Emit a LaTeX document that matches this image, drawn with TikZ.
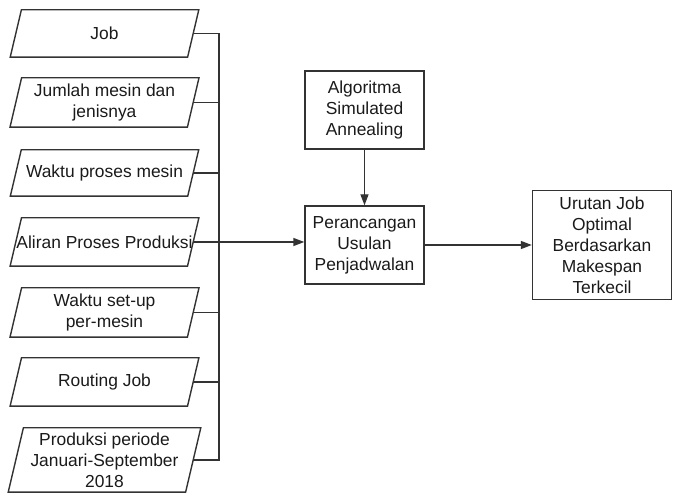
\documentclass[tikz,border=0pt]{standalone}
\usepackage{fontspec}
\setmainfont{Liberation Sans}
\usetikzlibrary{arrows.meta,calc}
\definecolor{ln}{HTML}{333333}
\definecolor{tx}{HTML}{1A1A1A}
\tikzset{
  base/.style={rectangle, inner sep=0pt, align=center, text=tx,
    font=\fontsize{17.4}{21}\selectfont},
  para/.style={base, minimum width=177pt},
  boxnode/.style={base, draw=ln, line width=1.4pt},
  wire/.style={draw=ln, line width=1.4pt},
  arr/.style={wire, -{Triangle[length=11pt,width=8pt]}}
}
\newcommand{\drawpara}[2]{%
  \draw[wire] ([xshift=#2pt]#1.north west) -- ([xshift=#2pt]#1.north east)
    -- ([xshift=-#2pt]#1.south east) -- ([xshift=-#2pt]#1.south west) -- cycle;}
\begin{document}
\begin{tikzpicture}[x=1pt,y=-1pt]
\useasboundingbox (0,0) rectangle (673,494);
% input parallelograms
\node[para, minimum height=47pt] (job) at (104.5,33.5) {Job};
\node[para, minimum height=49pt] (jml) at (104.5,102.5) {Jumlah mesin dan\\jenisnya};
\node[para, minimum height=46pt] (wpm) at (104.5,173) {Waktu proses mesin};
\node[para, minimum height=48pt] (alr) at (104.5,242) {Aliran Proses Produksi};
\node[para, minimum height=49pt] (wsu) at (104.5,312.5) {Waktu set-up\\per-mesin};
\node[para, minimum height=48pt] (rtg) at (104.5,382) {Routing Job};
\node[para, minimum height=64pt] (prd) at (104.5,460) {Produksi periode\\Januari-September\\2018};
\drawpara{job}{5.6}
\drawpara{jml}{5.8}
\drawpara{wpm}{5.5}
\drawpara{alr}{5.7}
\drawpara{wsu}{5.8}
\drawpara{rtg}{5.7}
\drawpara{prd}{7.6}
% process boxes
\node[boxnode, minimum width=119pt, minimum height=78pt] (alg) at (364.5,110) {Algoritma\\Simulated\\Annealing};
\node[boxnode, minimum width=119pt, minimum height=78pt] (per) at (364.5,245) {Perancangan\\Usulan\\Penjadwalan};
\node[boxnode, minimum width=139pt, minimum height=109pt] (uru) at (602,245) {Urutan Job\\Optimal\\Berdasarkan\\Makespan\\Terkecil};
% bus
\coordinate (bustop) at (219,0 |- job.east);
\coordinate (busbot) at (219,0 |- prd.east);
\draw[wire] (job.east) -- (bustop) -- (busbot) -- (prd.east);
\foreach \n in {jml,wpm,wsu,rtg} {\draw[wire] (\n.east) -- (\n.east -| bustop);}
\draw[arr] (alr.east) -- (alr.east -| per.west);
\draw[arr] (alg.south) -- (per.north);
\draw[arr] (per.east) -- (per.east -| uru.west);
\end{tikzpicture}
\end{document}
